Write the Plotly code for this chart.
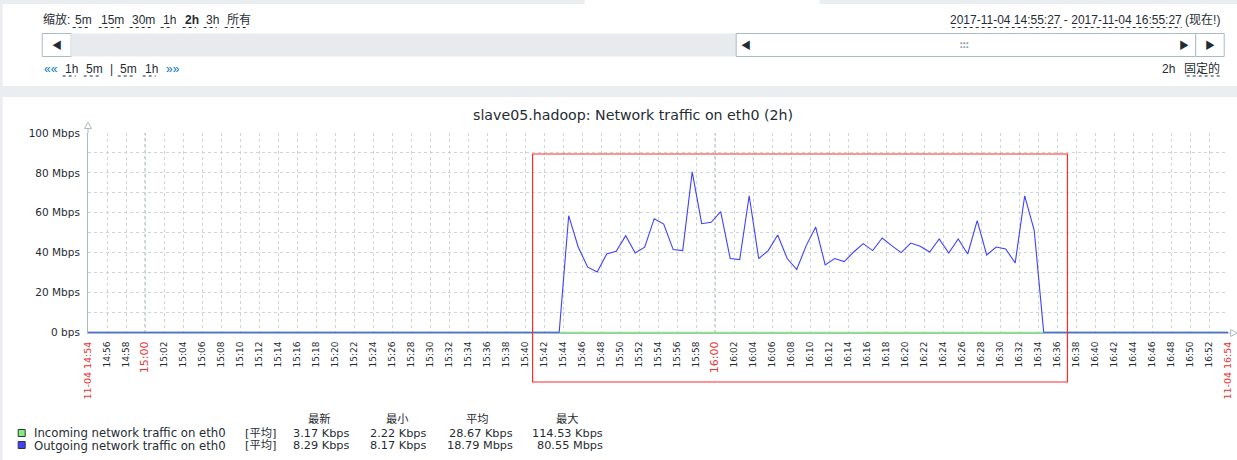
import plotly.graph_objects as go
import pandas as pd

# ---------------- data ----------------
DAY = "2017-11-04 "
axis_start = DAY + "14:54:00"
axis_end = DAY + "16:54:00"

# outgoing traffic (Mbps), one sample per minute starting at 15:44:36
out_start = DAY + "15:44:36"
outgoing_mbps = [58.5, 42.8, 32.7, 30.3, 39.3, 40.7, 48.5, 39.8, 42.7, 57.0,
                 54.3, 41.5, 41.0, 80.5, 54.5, 55.2, 60.5, 37.0, 36.5, 68.5,
                 37.0, 41.0, 48.8, 37.0, 31.5, 43.5, 52.8, 33.8, 37.0, 35.5,
                 40.3, 44.5, 41.0, 47.3, 43.5, 40.0, 44.8, 43.2, 40.3, 46.8,
                 39.8, 46.8, 39.3, 56.0, 38.8, 42.8, 41.8, 34.8, 68.5, 51.2]
out_idle_before = [DAY + "14:54:00", DAY + "15:43:36"]
out_idle_after = [DAY + "16:34:36", DAY + "16:54:00"]
out_idle_value = 0.008  # Mbps

incoming_times = [DAY + "14:54:00", DAY + "15:43:36", DAY + "15:44:36",
                  DAY + "16:33:36", DAY + "16:34:36", DAY + "16:54:00"]
incoming_kbps = [3.0, 3.0, 30.0, 28.0, 3.0, 3.0]

y_tickvals = [0, 20, 40, 60, 80, 100]
y_ticktext = ["0 bps", "20 Mbps", "40 Mbps", "60 Mbps", "80 Mbps", "100 Mbps"]
y_minorvals = [10, 30, 50, 70, 90]
red_hours = [DAY + "15:00:00", DAY + "16:00:00"]

legend_headers = ["最新", "最小", "平均", "最大"]
legend_names = ["Incoming network traffic on eth0", "Outgoing network traffic on eth0"]
legend_func = ["[平均]", "[平均]"]
legend_values = [["3.17 Kbps", "2.22 Kbps", "28.67 Kbps", "114.53 Kbps"],
                 ["8.29 Kbps", "8.17 Kbps", "18.79 Mbps", "80.55 Mbps"]]

zoom_links = ["5m", "15m", "30m", "1h", "2h", "3h", "所有"]
nav_links = ["1h", "5m", "|", "5m", "1h"]
period_text = "2017-11-04 14:55:27 - 2017-11-04 16:55:27 (现在!)"
title_text = "slave05.hadoop: Network traffic on eth0 (2h)"

# highlight box (user markup) in data terms
box_t0 = DAY + "15:40:48"
box_t1 = DAY + "16:37:06"
box_top_mbps = 89.5

# ---------------- styling / layout ----------------
W, H = 1237, 460
ML, MR, MT, MB = 88.3, 8.7, 133, 127
PW = W - ML - MR
PH = H - MT - MB
PB = H - MB  # pixel y of plot bottom

TEXT = "#1f2c33"
GRID = "#ccd5d9"
MAINGRID = "#acbbc2"
RED = "#e33734"
GREEN = "#80ee80"
BLUE = "#4040ff"
PAGE_BG = "#ebeef0"
UI_FONT = "Liberation Sans, Arial, Noto Sans CJK SC"
GR_FONT = "DejaVu Sans, Noto Sans CJK SC"


def px(X):
    return (X - ML) / PW


def py(Y):
    return (PB - Y) / PH


def ann(text, X, Y, xanchor="left", size=12, color=TEXT, family=UI_FONT, yanchor="middle"):
    return dict(text=text, x=px(X), y=py(Y), xref="paper", yref="paper",
                xanchor=xanchor, yanchor=yanchor, showarrow=False,
                font=dict(size=size, color=color, family=family))


def rect(X0, Y0, X1, Y1, fill="rgba(0,0,0,0)", line=None, width=1, layer="below"):
    return dict(type="rect", xref="paper", yref="paper", x0=px(X0), x1=px(X1),
                y0=py(Y1), y1=py(Y0), fillcolor=fill, layer=layer,
                line=dict(color=line or "rgba(0,0,0,0)", width=width if line else 0))


def hline(X0, X1, Y, color=TEXT, dash="dot", width=1):
    return dict(type="line", xref="paper", yref="paper", x0=px(X0), x1=px(X1),
                y0=py(Y), y1=py(Y), line=dict(color=color, dash=dash, width=width), layer="above")


# ---------------- traces ----------------
out_times = list(pd.date_range(out_start, periods=len(outgoing_mbps), freq="1min"))
out_x = [pd.Timestamp(t) for t in out_idle_before] + out_times + [pd.Timestamp(t) for t in out_idle_after]
out_y = [out_idle_value] * len(out_idle_before) + outgoing_mbps + [out_idle_value] * len(out_idle_after)

fig = go.Figure()
fig.add_trace(go.Scatter(x=pd.to_datetime(incoming_times), y=[v / 1000 for v in incoming_kbps],
                         mode="lines", line=dict(color=GREEN, width=1.3), hoverinfo="skip"))
fig.add_trace(go.Scatter(x=out_x, y=out_y, mode="lines",
                         line=dict(color=BLUE, width=1.1), hoverinfo="skip"))

# x ticks every 2 minutes
ticks = list(pd.date_range(axis_start, axis_end, freq="2min"))
ticktext = []
for i, t in enumerate(ticks):
    lbl = t.strftime("%H:%M")
    if i == 0 or i == len(ticks) - 1:
        ticktext.append('<span style="color:%s;font-size:9.5px">%s</span>' % (RED, t.strftime("%m-%d %H:%M")))
    elif t.minute == 0:
        ticktext.append('<span style="color:%s;font-size:11px">%s</span>' % (RED, lbl))
    else:
        ticktext.append(lbl)

shapes = []
# page panels
shapes.append(rect(3, 4, W + 5, 86, fill="white"))
shapes.append(rect(585, -2, 820, 5, fill="white"))
shapes.append(rect(3, 97, W + 5, H + 5, fill="white"))
# scrollbar
shapes.append(rect(42.5, 33.5, 71.5, 56.5, fill="white", line="#acbbc2"))
shapes.append(rect(71.5, 33.5, 736.5, 56.5, fill="#e8ebee"))
shapes.append(rect(736.5, 33.5, 1196, 56.5, fill="white", line="#acbbc2"))
shapes.append(rect(1196, 33.5, 1224.5, 56.5, fill="white", line="#acbbc2"))
# dotted underlines (links)
for x0, x1 in [(73, 90), (99, 121), (130, 152), (161, 173), (183, 196), (204, 217), (225, 249)]:
    shapes.append(hline(x0, x1, 27.5))
for x0, x1 in [(63, 76), (84, 101), (118, 135), (143, 156)]:
    shapes.append(hline(x0, x1, 76))
for x0, x1 in [(952, 1062), (1073, 1182), (1187, 1222)]:
    shapes.append(hline(x0, x1, 27.5 if x1 < 1185 else 76))

# main grid lines at full hours
for h in red_hours:
    shapes.append(dict(type="line", xref="x", yref="paper", x0=h, x1=h, y0=0, y1=1,
                       line=dict(color="#a4aeb4", dash="3px,3px", width=1), layer="below"))

# axis arrows / extension
shapes.append(dict(type="line", xref="paper", yref="paper", x0=0, x1=0, y0=1, y1=py(126),
                   line=dict(color=MAINGRID, width=1), layer="above"))
shapes.append(dict(type="path", xref="paper", yref="paper", layer="above",
                   path="M %f,%f L %f,%f L %f,%f Z" % (px(ML - 3.5), py(128.5), px(ML + 3.5), py(128.5), px(ML), py(122)),
                   line=dict(color=MAINGRID, width=1), fillcolor="white"))
shapes.append(dict(type="line", xref="paper", yref="paper", x0=1, x1=px(1232), y0=0, y1=0,
                   line=dict(color=MAINGRID, width=1), layer="above"))
shapes.append(dict(type="path", xref="paper", yref="paper", layer="above",
                   path="M %f,%f L %f,%f L %f,%f Z" % (px(1231), py(PB - 3.5), px(1231), py(PB + 3.5), px(1237.5), py(PB)),
                   line=dict(color=MAINGRID, width=1), fillcolor="white"))

# user highlight box
t_axis0 = pd.Timestamp(axis_start)
t_axis1 = pd.Timestamp(axis_end)
span = (t_axis1 - t_axis0).total_seconds()
bx0 = (pd.Timestamp(box_t0) - t_axis0).total_seconds() / span
bx1 = (pd.Timestamp(box_t1) - t_axis0).total_seconds() / span
shapes.append(dict(type="rect", xref="paper", yref="paper", x0=bx0, x1=bx1,
                   y0=py(382), y1=box_top_mbps / 100, line=dict(color="#ff2a2a", width=1.2),
                   fillcolor="rgba(0,0,0,0)", layer="above"))

# legend squares
shapes.append(rect(18.5, 429.5, 25.5, 436.5, fill=GREEN, line="#333333", layer="above"))
shapes.append(rect(18.5, 441.5, 25.5, 448.5, fill=BLUE, line="#333333", layer="above"))

annotations = []
# top controls
annotations.append(ann("缩放:", 41.5, 19.5))
zoom_x = [73, 99, 130, 161, 183, 204, 225]
for lbl, x in zip(zoom_links, zoom_x):
    annotations.append(ann("<b>%s</b>" % lbl if lbl == "2h" else lbl, x, 19.5))
annotations.append(ann("««", 42, 69, color="#0275b8"))
nav_x = [63, 84, 108, 118, 143]
for lbl, x in zip(nav_links, nav_x):
    annotations.append(ann(lbl, x, 69))
annotations.append(ann("»»", 164, 69, color="#0275b8"))
annotations.append(ann(period_text, 1222, 19.5, xanchor="right"))
annotations.append(ann("固定的", 1222, 69, xanchor="right"))
annotations.append(ann("2h", 1177, 69, xanchor="right"))
annotations.append(ann("◀", 57, 45, xanchor="center", size=10))
annotations.append(ann("◀", 746, 45, xanchor="center", size=10))
annotations.append(ann("▶", 1184, 45, xanchor="center", size=10))
annotations.append(ann("▶", 1210, 45, xanchor="center", size=10))
annotations.append(ann("<b>∶∶∶</b>", 965, 45, xanchor="center", size=10, color="#9aa6ad", family="DejaVu Sans"))

# title
annotations.append(ann(title_text, 633, 115, xanchor="center", size=14.2, family=GR_FONT))

# legend
hdr_x = [319.5, 398, 478, 568]
for h, x in zip(legend_headers, hdr_x):
    annotations.append(ann(h, x, 419, xanchor="center", size=11.3, family=GR_FONT))
val_x = [351, 428, 515, 605]
for r, (name, fn, vals) in enumerate(zip(legend_names, legend_func, legend_values)):
    yy = 433 + r * 12.5
    annotations.append(ann(name, 32, yy, size=11.7, family=GR_FONT))
    annotations.append(ann(fn, 243, yy, size=11.3, family=GR_FONT))
    for v, x in zip(vals, val_x):
        annotations.append(ann(v, x, yy, xanchor="right", size=11.3, family=GR_FONT))

fig.update_layout(
    width=W, height=H,
    margin=dict(l=ML, r=MR, t=MT, b=MB, pad=0, autoexpand=False),
    paper_bgcolor=PAGE_BG, plot_bgcolor="#ebebeb",
    showlegend=False,
    font=dict(family=GR_FONT, color=TEXT),
    shapes=shapes, annotations=annotations,
    xaxis=dict(range=[axis_start, axis_end], tickmode="array", tickvals=ticks, ticktext=ticktext,
               tickangle=-90, tickfont=dict(size=9, color=TEXT), ticks="", ticklabelstandoff=4,
               showgrid=True, gridcolor=GRID, griddash="3px,3px", gridwidth=1,
               showline=True, linecolor=MAINGRID, linewidth=1, zeroline=False, fixedrange=True),
    yaxis=dict(range=[-0.35, 100], tickmode="array", tickvals=y_tickvals, ticktext=y_ticktext,
               tickfont=dict(size=10.5, color=TEXT), ticks="", ticklabelstandoff=5,
               showgrid=True, gridcolor=GRID, griddash="3px,3px", gridwidth=1,
               minor=dict(tickvals=y_minorvals, showgrid=True, gridcolor=GRID, griddash="3px,3px", gridwidth=1),
               showline=True, linecolor=MAINGRID, linewidth=1, zeroline=False, fixedrange=True),
)

fig.write_html("out.html", config={"displayModeBar": False},
               post_script="document.body.style.margin='0';document.body.style.overflow='hidden';")
